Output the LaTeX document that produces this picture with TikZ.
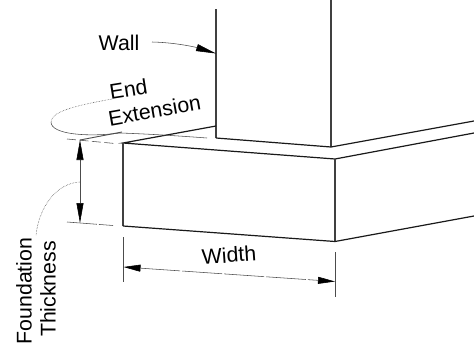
\documentclass[tikz,border=0pt]{standalone}
\usepackage{fontspec}
\setmainfont{Liberation Sans}
\usetikzlibrary{arrows.meta}
\tikzset{
  edge/.style={line width=1.2pt,color=black!90},
  vedge/.style={line width=1.2pt,color=black!75},
  dim/.style={line width=0.55pt,color=black!70},
  dimdash/.style={dim,dash pattern=on 9pt off 3.5pt},
  dimlong/.style={dim,dash pattern=on 30pt off 2pt},
  tipa/.style={-{Triangle[length=20pt,width=7pt,black]}},
  tipb/.style={{Triangle[length=20pt,width=7pt,black]}-{Triangle[length=20pt,width=7pt,black]}},
  tipc/.style={{Triangle[length=17pt,width=7pt,black]}-{Triangle[length=17pt,width=7pt,black]}},
  lbl/.style={inner sep=0pt,font=\fontsize{21.3pt}{21.3pt}\selectfont,text=black}
}
\begin{document}
\begin{tikzpicture}[x=1pt,y=-1pt]
\useasboundingbox (0,0) rectangle (474,343);
\fill[white] (0,0) rectangle (474,343);
% corner points
\coordinate (wt) at (216,9);
\coordinate (wb) at (216,138);
\coordinate (wf) at (331,147);
\coordinate (wft) at (331,0);
\coordinate (wr) at (474,121);
\coordinate (ftb) at (216,126);
\coordinate (ftl) at (123,143);
\coordinate (ftf) at (335,159);
\coordinate (ftr) at (474,133);
\coordinate (fbl) at (123,226);
\coordinate (fbf) at (335,241.5);
\coordinate (fbr) at (474,216);
% wall
\draw[vedge] (wt) -- (wb);
\draw[vedge] (wft) -- (wf);
\draw[edge] (wb) -- (wf) -- (wr);
% foundation
\draw[edge] (ftb) -- (ftl) -- (ftf) -- (ftr);
\draw[vedge] (ftl) -- (fbl);
\draw[vedge] (ftf) -- (fbf);
\draw[edge] (fbl) -- (fbf) -- (fbr);
% labels
\node[lbl] (wall) at (119,43) {Wall};
\node[lbl,rotate=9] (end) at (128.5,89) {End};
\node[lbl,rotate=10] (ext) at (154.5,110.5) {Extension};
\node[lbl,rotate=90] (found) at (24,291) {Foundation};
\node[lbl,rotate=90] (thick) at (48,289) {Thickness};
\node[lbl,rotate=4] (width) at (229,255) {Width};
% wall leader
\coordinate (wallend) at (216,53.5);
\draw[dim,tipa] (152,42) .. controls (175,42.5) and (195,47) .. (wallend);
% end extension leader
\coordinate (ea) at (112,99);
\coordinate (eb) at (51,122);
\coordinate (ec) at (120,133);
\coordinate (ed) at (207,138);
\draw[dim,densely dotted] (ea) .. controls (85,104) and (51,110) .. (eb);
\draw[dim] (eb) .. controls (51,135) and (90,137) .. (ec);
\draw[dim] (ec) .. controls (150,134) and (180,136) .. (ed);
% back edge projection
\coordinate (tt) at (80,140);
\draw[dim,line width=0.9pt] (tt) -- (122,132);
% thickness
\coordinate (tla) at (67,139);
\coordinate (tlb) at (115,143.5);
\coordinate (bla) at (67,222);
\coordinate (blb) at (113,225.5);
\coordinate (tb) at (80,223);
\draw[dimdash] (tla) -- (tlb);
\draw[dimlong] (bla) -- (blb);
\draw[dim,tipb] (tt) -- (tb);
\coordinate (tm) at (80,182);
\draw[dim,densely dotted] (tm) .. controls (55,183) and (38,210) .. (36,236);
% width
\coordinate (wla) at (123,237);
\coordinate (wlb) at (123,282);
\coordinate (wra) at (335.5,252);
\coordinate (wrb) at (335.5,297);
\coordinate (wd1) at (123.5,267);
\coordinate (wd2) at (335,281.5);
\draw[dim] (wla) -- (wlb);
\draw[dim] (wra) -- (wrb);
\draw[dim,tipc,dash pattern=on 40pt off 2pt] (wd1) -- (wd2);
\end{tikzpicture}
\end{document}
